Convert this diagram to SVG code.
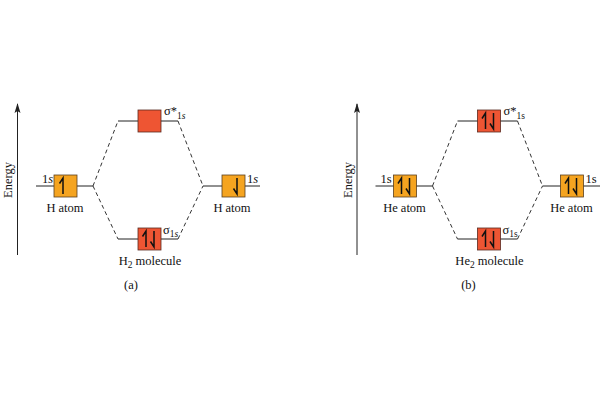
<svg xmlns="http://www.w3.org/2000/svg" width="600" height="400" viewBox="0 0 600 400">
<style>
.t{font-family:"Liberation Serif","DejaVu Serif",serif;font-size:12.5px;fill:#111}
.s{font-family:"Liberation Serif","DejaVu Serif",serif;font-size:9.5px;fill:#111}
.lvl{stroke:#222;stroke-width:1;fill:none}
.dash{stroke:#333;stroke-width:1;stroke-dasharray:4,3;fill:none}
.ax{stroke:#222;stroke-width:1;fill:none}
.o{fill:#F5A420;stroke:#5a4020;stroke-width:0.8}
.r{fill:#EE5533;stroke:#5a2a20;stroke-width:0.8}
.h{stroke:#111;stroke-width:1.5;fill:none;stroke-linejoin:miter}
</style>
<defs>
<marker id="ah" markerWidth="10" markerHeight="8" refX="9" refY="4" orient="auto" markerUnits="userSpaceOnUse" viewBox="0 0 10 8">
<path d="M10,4 L0,1 L2,4 L0,7 Z" fill="#222"/>
</marker>
<path id="up" class="h" d="M0,8 L0,-8 L-3.5,-2.5"/>
<path id="dn" class="h" d="M0,-8 L0,8 L-3.5,2.5"/>
</defs>

<!-- Panel (a) -->
<g id="panel-a">
<g id="energy-axis-a">
<line class="ax" x1="17.5" y1="255" x2="17.5" y2="104" marker-end="url(#ah)"/>
<text class="t" transform="translate(12,180) rotate(-90)" text-anchor="middle">Energy</text>
</g>
<g id="connectors-a">
<line class="lvl" x1="36" y1="186" x2="93" y2="186"/>
<line class="lvl" x1="118" y1="121" x2="178" y2="121"/>
<line class="lvl" x1="118" y1="239" x2="178" y2="239"/>
<line class="lvl" x1="203" y1="186" x2="260" y2="186"/>
<line class="dash" x1="93" y1="186" x2="118" y2="121"/>
<line class="dash" x1="93" y1="186" x2="118" y2="239"/>
<line class="dash" x1="178" y1="121" x2="203" y2="186"/>
<line class="dash" x1="178" y1="239" x2="203" y2="186"/>
</g>
<g id="h-atom-left">
<rect class="o" x="54" y="175" width="23" height="22"/>
<use href="#up" x="63" y="186"/>
<text class="t" x="42" y="183">1<tspan font-style="italic">s</tspan></text>
<text class="t" x="65" y="212" text-anchor="middle">H atom</text>
</g>
<g id="sigma-star-a">
<rect class="r" x="138" y="110" width="23" height="22"/>
<text class="t" x="164" y="115">σ*<tspan class="s" dy="4">1<tspan font-style="italic">s</tspan></tspan></text>
</g>
<g id="sigma-a">
<rect class="r" x="138" y="228" width="23" height="22"/>
<use href="#up" x="146" y="239"/>
<use href="#dn" x="154" y="239"/>
<text class="t" x="163" y="234">σ<tspan class="s" dy="3">1<tspan font-style="italic">s</tspan></tspan></text>
<text class="t" x="150" y="265" text-anchor="middle">H<tspan class="s" dy="3">2</tspan><tspan dy="-3"> molecule</tspan></text>
</g>
<g id="h-atom-right">
<rect class="o" x="222" y="175" width="23" height="22"/>
<use href="#dn" x="237" y="186"/>
<text class="t" x="247" y="183">1<tspan font-style="italic">s</tspan></text>
<text class="t" x="232" y="212" text-anchor="middle">H atom</text>
</g>
<text id="label-a" class="t" x="131" y="289" text-anchor="middle">(a)</text>
</g>

<!-- Panel (b) -->
<g id="panel-b" transform="translate(339.5,0)">
<g id="energy-axis-b">
<line class="ax" x1="17.5" y1="255" x2="17.5" y2="104" marker-end="url(#ah)"/>
<text class="t" transform="translate(12,180) rotate(-90)" text-anchor="middle">Energy</text>
</g>
<g id="connectors-b">
<line class="lvl" x1="36" y1="186" x2="93" y2="186"/>
<line class="lvl" x1="118" y1="121" x2="178" y2="121"/>
<line class="lvl" x1="118" y1="239" x2="178" y2="239"/>
<line class="lvl" x1="203" y1="186" x2="260.5" y2="186"/>
<line class="dash" x1="93" y1="186" x2="118" y2="121"/>
<line class="dash" x1="93" y1="186" x2="118" y2="239"/>
<line class="dash" x1="178" y1="121" x2="203" y2="186"/>
<line class="dash" x1="178" y1="239" x2="203" y2="186"/>
</g>
<g id="he-atom-left">
<rect class="o" x="54" y="175" width="23" height="22"/>
<use href="#up" x="62" y="186"/>
<use href="#dn" x="70" y="186"/>
<text class="t" x="41" y="183">1s</text>
<text class="t" x="65" y="212" text-anchor="middle">He atom</text>
</g>
<g id="sigma-star-b">
<rect class="r" x="138" y="110" width="23" height="22"/>
<use href="#up" x="146" y="121"/>
<use href="#dn" x="154" y="121"/>
<text class="t" x="164" y="115">σ*<tspan class="s" dy="4">1s</tspan></text>
</g>
<g id="sigma-b">
<rect class="r" x="138" y="228" width="23" height="22"/>
<use href="#up" x="146" y="239"/>
<use href="#dn" x="154" y="239"/>
<text class="t" x="163" y="234">σ<tspan class="s" dy="3">1s</tspan></text>
<text class="t" x="150" y="265" text-anchor="middle">He<tspan class="s" dy="3">2</tspan><tspan dy="-3"> molecule</tspan></text>
</g>
<g id="he-atom-right">
<rect class="o" x="221" y="175" width="23" height="22"/>
<use href="#up" x="229" y="186"/>
<use href="#dn" x="237" y="186"/>
<text class="t" x="246" y="183">1s</text>
<text class="t" x="232" y="212" text-anchor="middle">He atom</text>
</g>
<text id="label-b" class="t" x="129" y="289" text-anchor="middle">(b)</text>
</g>
</svg>
